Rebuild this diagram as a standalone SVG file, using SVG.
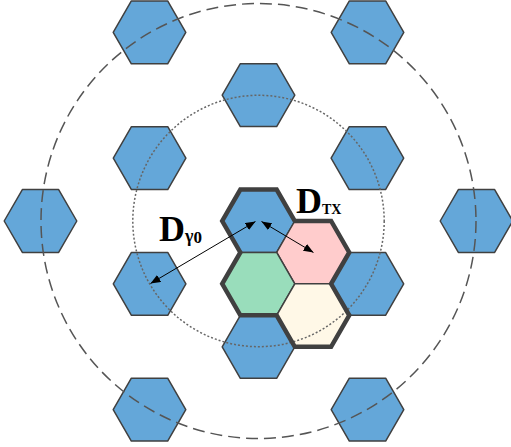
<svg xmlns="http://www.w3.org/2000/svg" xmlns:xlink="http://www.w3.org/1999/xlink" width="511" height="447" viewBox="0 0 511 447">
<style>
.hex{fill:#64a7d9;stroke:#404040;stroke-width:1.5;stroke-linejoin:round}
.pink{fill:#ffcccc}
.green{fill:#99ddbb}
.cream{fill:#fff8e7}
.dash{fill:none;stroke:#555;stroke-width:1.5;stroke-dasharray:12 6}
.dot{fill:none;stroke:#666;stroke-width:1.5;stroke-dasharray:2 2}
.outline{fill:none;stroke:#404040;stroke-width:4.5;stroke-linejoin:miter}
.arrow{stroke:#000;stroke-width:1;fill:none}
.big{font-family:"Liberation Serif","Times New Roman",serif;font-weight:bold;fill:#000}
</style>
<defs>
<polygon id="hx" points="36.3,0 18.15,31.44 -18.15,31.44 -36.3,0 -18.15,-31.44 18.15,-31.44"/>
<marker id="ah" viewBox="0 0 10 8" refX="10" refY="4" markerWidth="10" markerHeight="8" markerUnits="userSpaceOnUse" orient="auto-start-reverse">
<path d="M0,0 L10,4 L0,8 Z" fill="#000"/>
</marker>
</defs>
<g id="tier2">
<g id="hex-t2-nw"><use xlink:href="#hx" class="hex" x="149.5" y="32.4"/></g>
<g id="hex-t2-ne"><use xlink:href="#hx" class="hex" x="367.5" y="32.4"/></g>
<g id="hex-t2-w"><use xlink:href="#hx" class="hex" x="40.5" y="221"/></g>
<g id="hex-t2-e"><use xlink:href="#hx" class="hex" x="476.5" y="221"/></g>
<g id="hex-t2-sw"><use xlink:href="#hx" class="hex" x="149.5" y="409.6"/></g>
<g id="hex-t2-se"><use xlink:href="#hx" class="hex" x="367.5" y="409.6"/></g>
</g>
<g id="tier1">
<g id="hex-t1-n"><use xlink:href="#hx" class="hex" x="258.5" y="95.1"/></g>
<g id="hex-t1-nw"><use xlink:href="#hx" class="hex" x="149.6" y="158.1"/></g>
<g id="hex-t1-ne"><use xlink:href="#hx" class="hex" x="367.4" y="158.1"/></g>
<g id="hex-t1-sw"><use xlink:href="#hx" class="hex" x="149.6" y="283.9"/></g>
<g id="hex-t1-se"><use xlink:href="#hx" class="hex" x="367.4" y="283.9"/></g>
<g id="hex-t1-s"><use xlink:href="#hx" class="hex" x="258.5" y="346.9"/></g>
</g>
<g id="cluster">
<g id="hex-center"><use xlink:href="#hx" class="hex" x="258.5" y="221"/></g>
<g id="hex-pink"><use xlink:href="#hx" class="hex pink" x="312.95" y="252.44"/></g>
<g id="hex-green"><use xlink:href="#hx" class="hex green" x="258.5" y="283.87"/></g>
<g id="hex-cream"><use xlink:href="#hx" class="hex cream" x="312.95" y="315.31"/></g>
</g>
<g id="circles">
<circle class="dot" cx="258.5" cy="221" r="125.7"/>
<circle class="dash" cx="258.5" cy="221" r="217.5"/>
</g>
<g id="cluster-outline">
<polygon class="outline" points="240.35,189.56 276.65,189.56 294.8,221 331.1,221 349.25,252.44 331.1,283.87 349.25,315.31 331.1,346.75 294.8,346.75 276.65,315.31 240.35,315.31 222.2,283.87 240.35,252.44 222.2,221"/>
</g>
<g id="connectors">
<line class="arrow" x1="255.5" y1="221.5" x2="150.5" y2="283.5" marker-start="url(#ah)" marker-end="url(#ah)"/>
<line class="arrow" x1="261.5" y1="221.5" x2="313.5" y2="252.5" marker-start="url(#ah)" marker-end="url(#ah)"/>
</g>
<g id="labels">
<text class="big" x="159" y="241.3" font-size="36">D<tspan font-size="18" dy="1">γ</tspan><tspan font-size="17" dy="0.5">0</tspan></text>
<text class="big" x="296" y="213.3" font-size="36">D<tspan font-size="14" dy="0.7">TX</tspan></text>
</g>
</svg>
